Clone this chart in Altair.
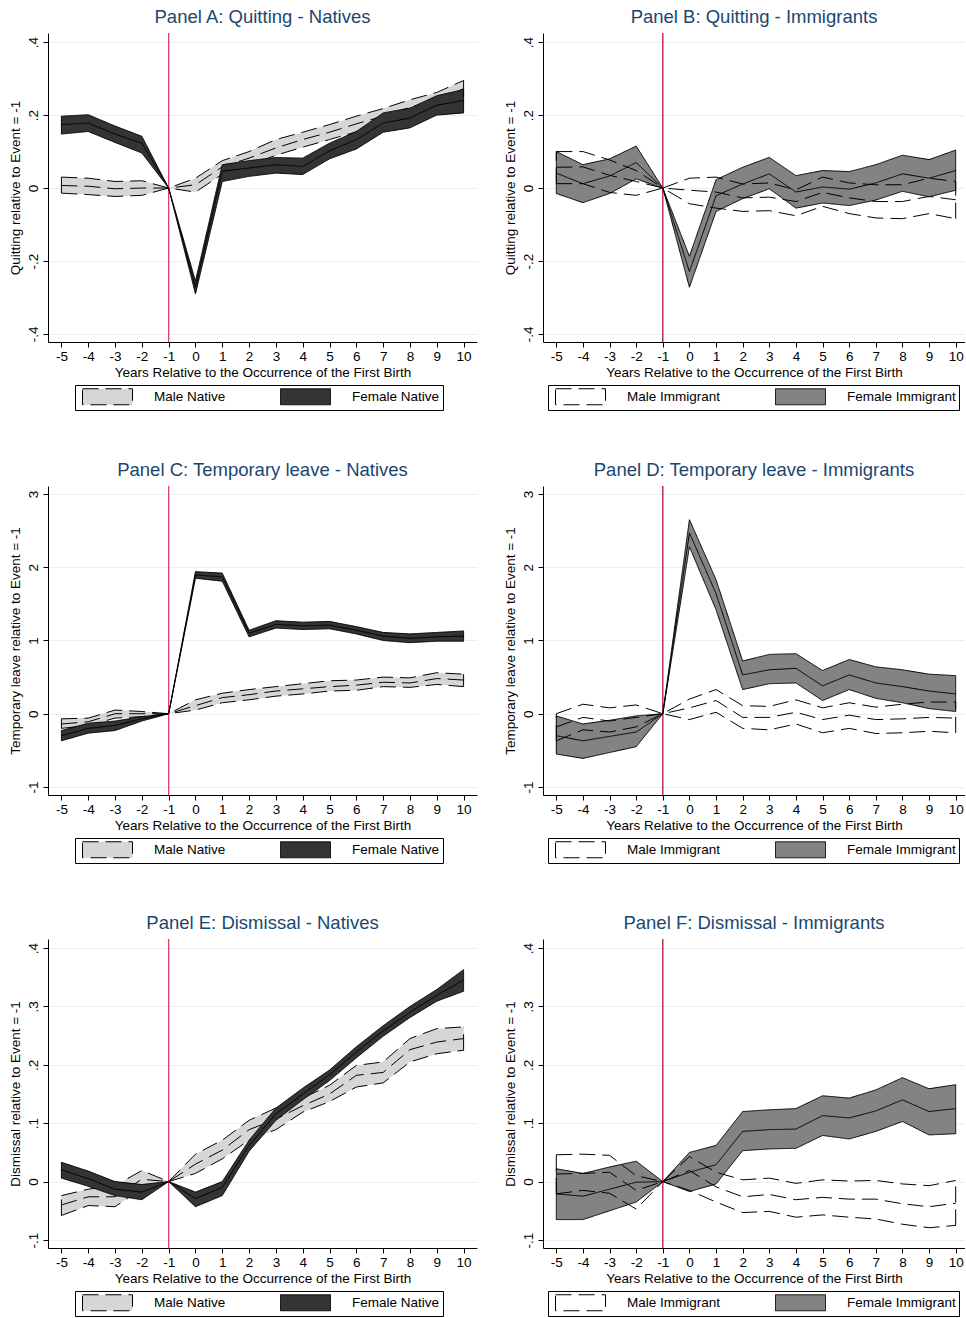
import altair as alt
import pandas as pd

YEARS = list(range(-5, 11))
END_YEARS = [YEARS[0], YEARS[-1]]
EVENT_YEAR = [-1]
XTITLE = "Years Relative to the Occurrence of the First Birth"

# ---------------- Panel A: Quitting - Natives ----------------
A_FEM_P = [0.174, 0.178, 0.148, 0.123, 0, -0.272, 0.046, 0.055, 0.064, 0.059, 0.102, 0.133, 0.178, 0.192, 0.227, 0.240]
A_FEM_LO = [0.148, 0.155, 0.125, 0.096, 0, -0.290, 0.018, 0.032, 0.041, 0.037, 0.080, 0.107, 0.153, 0.165, 0.200, 0.206]
A_FEM_HI = [0.197, 0.201, 0.170, 0.142, 0, -0.255, 0.064, 0.075, 0.084, 0.082, 0.123, 0.155, 0.206, 0.219, 0.253, 0.270]
A_MAL_P = [0.007, 0.005, -0.002, 0.000, 0, 0.009, 0.058, 0.082, 0.110, 0.133, 0.153, 0.176, 0.197, 0.221, 0.242, 0.272]
A_MAL_LO = [-0.014, -0.018, -0.023, -0.020, 0, -0.011, 0.038, 0.062, 0.090, 0.112, 0.133, 0.154, 0.176, 0.201, 0.221, 0.251]
A_MAL_HI = [0.030, 0.027, 0.018, 0.020, 0, 0.027, 0.075, 0.100, 0.133, 0.153, 0.174, 0.197, 0.218, 0.242, 0.262, 0.295]

# ---------------- Panel B: Quitting - Immigrants ----------------
B_FEM_P = [0.041, 0.012, 0.033, 0.070, 0, -0.229, -0.021, 0.011, 0.039, -0.011, 0.003, -0.003, 0.014, 0.039, 0.027, 0.048]
B_FEM_LO = [-0.015, -0.040, -0.015, 0.025, 0, -0.272, -0.064, -0.029, -0.002, -0.055, -0.041, -0.048, -0.033, -0.009, -0.024, -0.006]
B_FEM_HI = [0.100, 0.064, 0.080, 0.115, 0, -0.187, 0.023, 0.057, 0.084, 0.034, 0.048, 0.045, 0.064, 0.090, 0.078, 0.104]
B_MAL_P = [0.057, 0.058, 0.035, 0.018, 0, -0.006, -0.011, -0.027, -0.025, -0.037, -0.012, -0.027, -0.037, -0.037, -0.023, -0.032]
B_MAL_LO = [0.012, 0.012, -0.012, -0.020, 0, -0.043, -0.055, -0.064, -0.062, -0.076, -0.050, -0.070, -0.082, -0.084, -0.070, -0.084]
B_MAL_HI = [0.100, 0.100, 0.077, 0.048, 0, 0.027, 0.030, 0.011, 0.014, -0.005, 0.030, 0.014, 0.009, 0.009, 0.027, 0.018]

# ---------------- Panel C: Temporary leave - Natives ----------------
C_FEM_P = [-0.30, -0.20, -0.16, -0.07, 0, 1.895, 1.87, 1.10, 1.22, 1.20, 1.21, 1.14, 1.06, 1.03, 1.05, 1.06]
C_FEM_LO = [-0.37, -0.265, -0.23, -0.10, 0, 1.85, 1.81, 1.05, 1.17, 1.15, 1.16, 1.09, 1.00, 0.97, 0.99, 0.99]
C_FEM_HI = [-0.23, -0.13, -0.10, -0.04, 0, 1.94, 1.92, 1.14, 1.27, 1.25, 1.26, 1.19, 1.11, 1.09, 1.11, 1.13]
C_MAL_P = [-0.14, -0.11, 0.00, 0.00, 0, 0.11, 0.22, 0.26, 0.31, 0.34, 0.37, 0.39, 0.43, 0.42, 0.48, 0.46]
C_MAL_LO = [-0.20, -0.16, -0.06, -0.04, 0, 0.05, 0.15, 0.19, 0.24, 0.27, 0.31, 0.32, 0.37, 0.36, 0.40, 0.37]
C_MAL_HI = [-0.07, -0.06, 0.05, 0.03, 0, 0.19, 0.28, 0.33, 0.37, 0.41, 0.45, 0.46, 0.50, 0.49, 0.56, 0.54]

# ---------------- Panel D: Temporary leave - Immigrants ----------------
D_FEM_P = [-0.30, -0.37, -0.31, -0.25, 0, 2.47, 1.64, 0.53, 0.60, 0.62, 0.38, 0.53, 0.42, 0.37, 0.31, 0.27]
D_FEM_LO = [-0.55, -0.61, -0.53, -0.45, 0, 2.28, 1.42, 0.33, 0.41, 0.42, 0.18, 0.33, 0.21, 0.15, 0.07, 0.03]
D_FEM_HI = [-0.03, -0.14, -0.09, -0.03, 0, 2.65, 1.83, 0.72, 0.81, 0.82, 0.59, 0.74, 0.64, 0.60, 0.54, 0.52]
D_MAL_P = [-0.18, -0.05, -0.10, -0.05, 0, 0.08, 0.18, -0.05, -0.05, 0.02, -0.08, -0.02, -0.08, -0.07, -0.05, -0.06]
D_MAL_LO = [-0.37, -0.22, -0.25, -0.18, 0, -0.08, 0.02, -0.20, -0.22, -0.14, -0.26, -0.20, -0.27, -0.26, -0.24, -0.26]
D_MAL_HI = [0.00, 0.13, 0.08, 0.12, 0, 0.20, 0.33, 0.11, 0.10, 0.19, 0.08, 0.15, 0.09, 0.13, 0.16, 0.16]

# ---------------- Panel E: Dismissal - Natives ----------------
E_FEM_P = [0.020, 0.005, -0.013, -0.018, 0, -0.029, -0.010, 0.062, 0.116, 0.150, 0.183, 0.222, 0.258, 0.290, 0.319, 0.345]
E_FEM_LO = [0.006, -0.008, -0.024, -0.031, 0, -0.043, -0.024, 0.052, 0.105, 0.140, 0.173, 0.212, 0.249, 0.281, 0.309, 0.326]
E_FEM_HI = [0.033, 0.018, 0.000, -0.005, 0, -0.018, 0.000, 0.071, 0.126, 0.160, 0.191, 0.231, 0.267, 0.300, 0.329, 0.363]
E_MAL_P = [-0.040, -0.026, -0.026, 0.004, 0, 0.030, 0.054, 0.089, 0.107, 0.130, 0.150, 0.182, 0.187, 0.226, 0.239, 0.245]
E_MAL_LO = [-0.058, -0.041, -0.043, -0.012, 0, 0.014, 0.039, 0.071, 0.089, 0.119, 0.137, 0.162, 0.169, 0.205, 0.219, 0.225]
E_MAL_HI = [-0.024, -0.013, -0.007, 0.019, 0, 0.047, 0.071, 0.105, 0.126, 0.143, 0.165, 0.199, 0.205, 0.245, 0.262, 0.265]

# ---------------- Panel F: Dismissal - Immigrants ----------------
F_FEM_P = [-0.021, -0.025, -0.013, -0.001, 0, 0.016, 0.029, 0.086, 0.089, 0.090, 0.113, 0.109, 0.121, 0.140, 0.120, 0.125]
F_FEM_LO = [-0.065, -0.065, -0.050, -0.035, 0, -0.017, -0.004, 0.053, 0.056, 0.057, 0.079, 0.073, 0.086, 0.103, 0.080, 0.082]
F_FEM_HI = [0.022, 0.014, 0.025, 0.035, 0, 0.050, 0.062, 0.120, 0.123, 0.125, 0.147, 0.143, 0.157, 0.178, 0.159, 0.166]
F_MAL_P = [0.013, 0.014, 0.016, -0.015, 0, 0.019, -0.009, -0.026, -0.022, -0.031, -0.027, -0.030, -0.030, -0.038, -0.043, -0.037]
F_MAL_LO = [-0.021, -0.015, -0.020, -0.047, 0, -0.015, -0.035, -0.053, -0.051, -0.061, -0.057, -0.061, -0.064, -0.073, -0.079, -0.075]
F_MAL_HI = [0.046, 0.047, 0.045, 0.010, 0, 0.043, 0.016, 0.003, 0.006, -0.003, 0.003, 0.001, 0.002, -0.004, -0.007, 0.002]

FONT = "Liberation Sans"
FS = 13.5
DASH = [16, 7]
SOLID = [1, 0]
FRAC_EXPR = ("datum.value == 0 ? '0' : (datum.value < 0 ? '-' : '') + "
             "substring(format(abs(datum.value), '.1f'), 1)")
INT_EXPR = "toString(datum.value)"


def panel(title, ytitle, ydom, yticks, label_expr, names, fills, rule_color,
          fem, mal, width, xdom, immigrant, legend_x):
    male_name, female_name = names
    rows = []
    for i, yr in enumerate(YEARS):
        rows.append({"year": yr, "grp": male_name, "p": mal[0][i], "lo": mal[1][i], "hi": mal[2][i]})
        rows.append({"year": yr, "grp": female_name, "p": fem[0][i], "lo": fem[1][i], "hi": fem[2][i]})
    df = pd.DataFrame(rows)
    base = alt.Chart(df)

    x = alt.X("year:Q", scale=alt.Scale(domain=xdom, nice=False, zero=False),
              axis=alt.Axis(values=YEARS, title=XTITLE, labelExpr=INT_EXPR, grid=False))
    yaxis = alt.Axis(values=yticks, title=ytitle, labelAngle=270, labelAlign="center",
                     labelBaseline="bottom", labelExpr=label_expr, grid=True)
    yscale = alt.Scale(domain=ydom, nice=False, zero=False)

    leg = alt.Legend(title=None, orient="none", legendX=legend_x, legendY=352,
                     direction="horizontal")
    dom = [male_name, female_name]
    fill = alt.Fill("grp:N", scale=alt.Scale(domain=dom, range=fills), legend=leg)
    dash = alt.StrokeDash("grp:N", scale=alt.Scale(domain=dom, range=[DASH, SOLID]), legend=leg)

    def band(name, d):
        sub = base.transform_filter(alt.datum.grp == name)
        area = sub.mark_area(opacity=1, strokeWidth=0).encode(
            x=x, y=alt.Y("hi:Q", scale=yscale, axis=yaxis), y2="lo:Q", fill=fill)
        upper = sub.mark_line(color="black", strokeWidth=1).encode(
            x=x, y=alt.Y("hi:Q", scale=yscale, axis=yaxis), strokeDash=dash)
        lower = sub.mark_line(color="black", strokeWidth=1).encode(
            x=x, y=alt.Y("lo:Q", scale=yscale, axis=yaxis), strokeDash=dash)
        ends = sub.transform_filter(
            alt.FieldOneOfPredicate(field="year", oneOf=END_YEARS)
        ).mark_rule(color="black", strokeWidth=1, strokeDash=d).encode(
            x=x, y=alt.Y("lo:Q", scale=yscale, axis=yaxis), y2="hi:Q")
        pt = sub.mark_line(color="black", strokeWidth=1, strokeDash=d).encode(
            x=x, y=alt.Y("p:Q", scale=yscale, axis=yaxis))
        return [area, upper, lower, ends, pt]

    rule = alt.Chart(pd.DataFrame({"year": EVENT_YEAR})).mark_rule(
        color=rule_color, strokeWidth=1.3
    ).encode(x=x)

    if immigrant:
        layers = [rule] + band(female_name, SOLID) + band(male_name, DASH)
    else:
        layers = [rule] + band(male_name, DASH) + band(female_name, SOLID)
    return alt.layer(*layers).properties(title=title, width=width, height=309)


NAT = ("Male Native", "Female Native")
IMM = ("Male Immigrant", "Female Immigrant")
NAT_FILL = ["#d6d6d6", "#343434"]
IMM_FILL = ["transparent", "#838383"]
NAT_RED = "#e0406a"
IMM_RED = "#b40f3c"
LW, RW = 429, 422
LDOM, RDOM = [-5.5, 10.5], [-5.5, 10.35]
FRAC_A = [-0.4, -0.2, 0, 0.2, 0.4]
INT_C = [-1, 0, 1, 2, 3]
FRAC_E = [-0.1, 0, 0.1, 0.2, 0.3, 0.4]

pA = panel("Panel A: Quitting - Natives", "Quitting relative to Event = -1", [-0.422, 0.425],
           FRAC_A, FRAC_EXPR, NAT, NAT_FILL, NAT_RED,
           (A_FEM_P, A_FEM_LO, A_FEM_HI), (A_MAL_P, A_MAL_LO, A_MAL_HI), LW, LDOM, False, 27)
pB = panel("Panel B: Quitting - Immigrants", "Quitting relative to Event = -1", [-0.422, 0.425],
           FRAC_A, FRAC_EXPR, IMM, IMM_FILL, IMM_RED,
           (B_FEM_P, B_FEM_LO, B_FEM_HI), (B_MAL_P, B_MAL_LO, B_MAL_HI), RW, RDOM, True, 5)
pC = panel("Panel C: Temporary leave - Natives", "Temporary leave relative to Event = -1", [-1.11, 3.11],
           INT_C, INT_EXPR, NAT, NAT_FILL, NAT_RED,
           (C_FEM_P, C_FEM_LO, C_FEM_HI), (C_MAL_P, C_MAL_LO, C_MAL_HI), LW, LDOM, False, 27)
pD = panel("Panel D: Temporary leave - Immigrants", "Temporary leave relative to Event = -1", [-1.11, 3.11],
           INT_C, INT_EXPR, IMM, IMM_FILL, IMM_RED,
           (D_FEM_P, D_FEM_LO, D_FEM_HI), (D_MAL_P, D_MAL_LO, D_MAL_HI), RW, RDOM, True, 5)
pE = panel("Panel E: Dismissal - Natives", "Dismissal relative to Event = -1", [-0.1137, 0.4155],
           FRAC_E, FRAC_EXPR, NAT, NAT_FILL, NAT_RED,
           (E_FEM_P, E_FEM_LO, E_FEM_HI), (E_MAL_P, E_MAL_LO, E_MAL_HI), LW, LDOM, False, 27)
pF = panel("Panel F: Dismissal - Immigrants", "Dismissal relative to Event = -1", [-0.1137, 0.4155],
           FRAC_E, FRAC_EXPR, IMM, IMM_FILL, IMM_RED,
           (F_FEM_P, F_FEM_LO, F_FEM_HI), (F_MAL_P, F_MAL_LO, F_MAL_HI), RW, RDOM, True, 5)

chart = alt.concat(
    pA, pB, pC, pD, pE, pF, columns=2, spacing={"row": 49, "column": 26}
).resolve_scale(
    fill="independent", strokeDash="independent", x="independent", y="independent"
).properties(
    padding={"left": 8, "top": 7, "right": 0, "bottom": 0},
    background="white",
    align={"row": "all", "column": "each"},
).configure_view(
    stroke=None
).configure_title(
    font=FONT, fontSize=18.5, fontWeight="normal", color="#1a476f", anchor="middle",
    frame="group", offset=6
).configure_axis(
    labelFont=FONT, titleFont=FONT, labelFontSize=FS, titleFontSize=FS,
    labelColor="black", titleColor="black", titleFontWeight="normal",
    domainColor="black", tickColor="black", domainWidth=1, tickWidth=1, tickSize=5,
    gridColor="#e8f0f1", gridWidth=1.2, labelPadding=2, titlePadding=3,
).configure_axisY(
    titlePadding=4, labelPadding=3
).configure_legend(
    labelFont=FONT, labelFontSize=FS, labelColor="black",
    strokeColor="black", fillColor="white", padding=3,
    symbolType="M-3.125,-1H3.125V1H-3.125Z", symbolSize=256,
    symbolStrokeColor="black", symbolStrokeWidth=1, symbolOpacity=1,
    symbolOffset=21, labelOffset=38, columnPadding=50,
)

chart.save("out.html", embed_options={"renderer": "svg", "actions": False})
